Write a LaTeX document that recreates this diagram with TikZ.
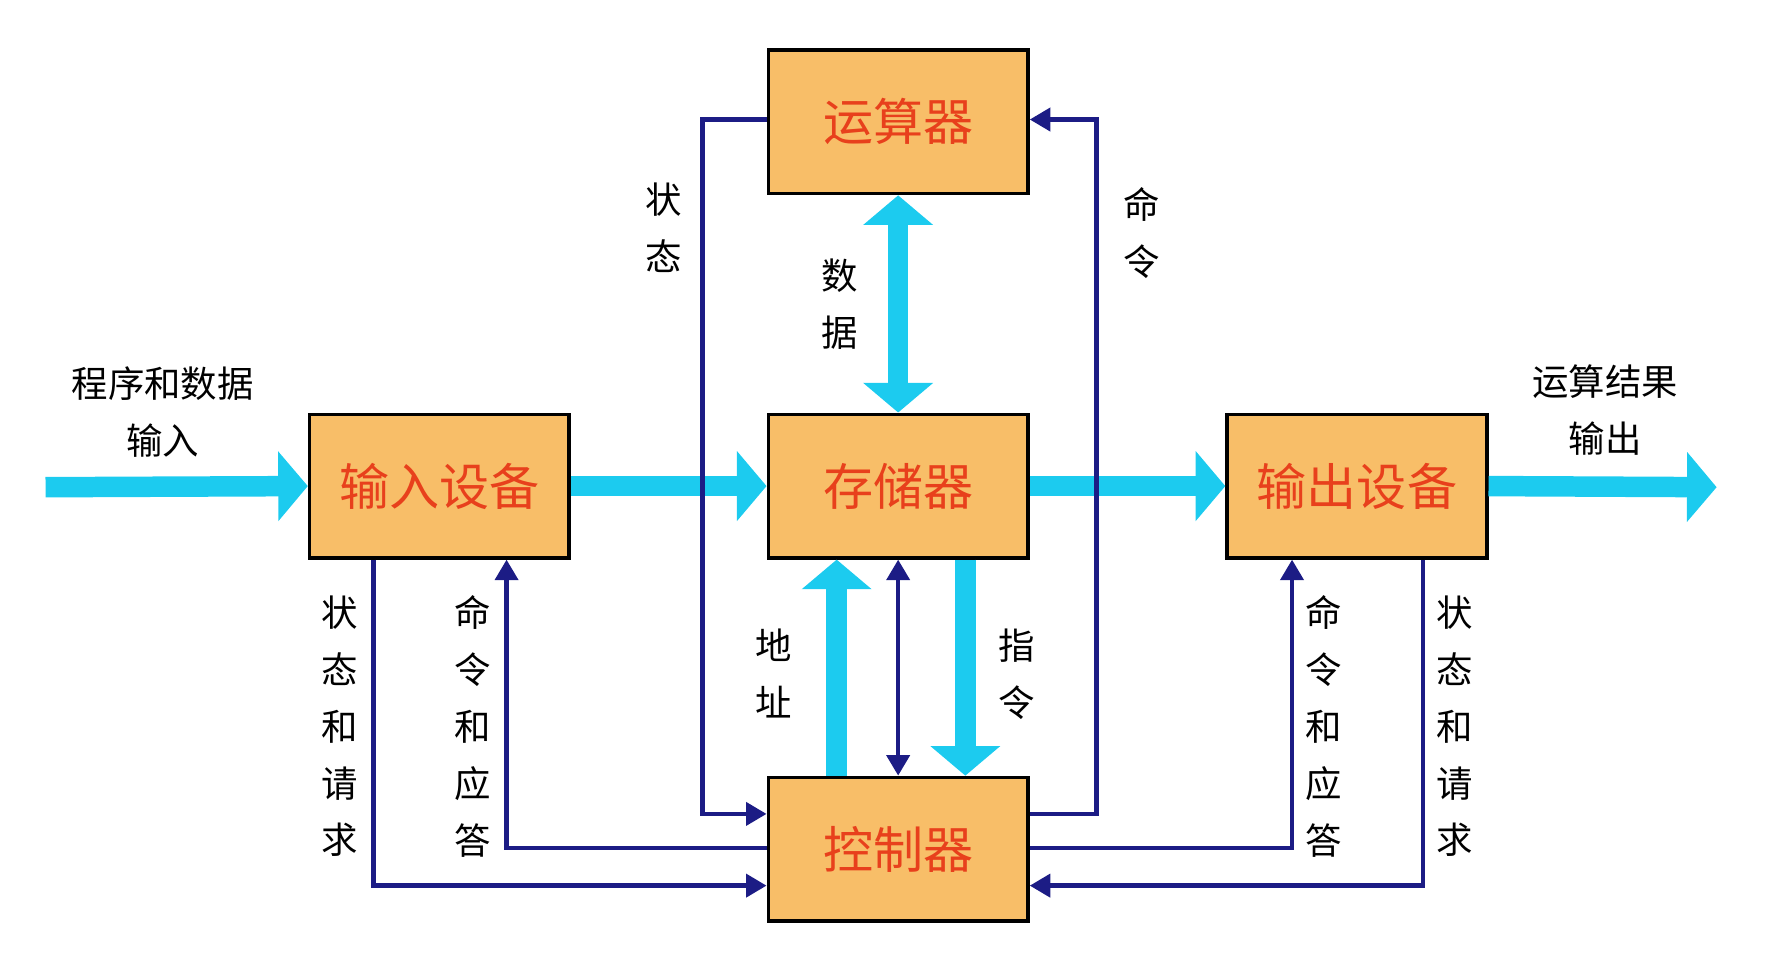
\documentclass[tikz,border=0pt]{standalone}
\usepackage{fontspec}
\newfontfamily\cjk{Noto Sans CJK SC}
\usetikzlibrary{arrows.meta}
\definecolor{boxfill}{HTML}{F8BE68}
\definecolor{boxtext}{HTML}{E8401C}
\definecolor{bus}{HTML}{1CCBEF}
\definecolor{ctl}{HTML}{1C1C85}
\begin{document}
\begin{tikzpicture}[x=0.5pt,y=-0.5pt,
  box/.style={draw=black,line width=1.6pt,fill=boxfill,minimum width=114pt,minimum height=63pt,inner sep=0pt,font=\cjk\fontsize{22}{24}\selectfont,text=boxtext},
  busarrow/.style={draw=bus,line width=9pt,-{Triangle[width=30pt,length=13pt]}},
  busdbl/.style={draw=bus,line width=9pt,{Triangle[width=30pt,length=13pt]}-{Triangle[width=30pt,length=13pt]}},
  ctlarrow/.style={draw=ctl,line width=2pt,-{Triangle[width=10pt,length=9pt]}},
  lbl/.style={font=\cjk\fontsize{16}{25}\selectfont,align=center,inner sep=0pt}]
\useasboundingbox (0,0) rectangle (1554,860);
\node[box] (alu) at (789,107) {运算器};
\node[box] (mem) at (789,427) {存储器};
\node[box] (in) at (386,427) {输入设备};
\node[box] (out) at (1192,427) {输出设备};
\node[box] (cu) at (789,746) {控制器};
\coordinate (src) at (40,428);
\coordinate (dst) at (1508,428);
% bus arrows
\draw[busarrow] (src) -- (in.west);
\draw[busarrow] (in.east) -- (mem.west);
\draw[busarrow] (mem.east) -- (out.west);
\draw[busarrow] (out.east) -- (dst);
\draw[busdbl] (alu.south) -- (mem.north);
\draw[busarrow] (cu.north -| 735,0) -- (mem.south -| 735,0);
\draw[busarrow] (mem.south -| 848,0) -- (cu.north -| 848,0);
\draw[draw=ctl,line width=2pt,{Triangle[width=10pt,length=9pt]}-{Triangle[width=10pt,length=9pt]}] (mem.south) -- (cu.north);
% control lines
\draw[ctlarrow] (alu.west |- 0,105) -- (617,105) -- (617,715) -- (cu.west |- 0,715);
\draw[ctlarrow] (cu.east |- 0,715) -- (963,715) -- (963,105) -- (alu.east |- 0,105);
\draw[ctlarrow] (in.south -| 328,0) -- (328,778) -- (cu.west |- 0,778);
\draw[ctlarrow] (cu.west |- 0,745) -- (445,745) -- (in.south -| 445,0);
\draw[ctlarrow] (cu.east |- 0,745) -- (1135,745) -- (out.south -| 1135,0);
\draw[ctlarrow] (out.south -| 1250,0) -- (1250,778) -- (cu.east |- 0,778);
% labels
\node[lbl] (l1) at (583,200) {状\\态};
\node[lbl] (l2) at (1003,205) {命\\令};
\node[lbl] (l3) at (738,267) {数\\据};
\node[lbl] (l4) at (680,592) {地\\址};
\node[lbl] (l5) at (893,592) {指\\令};
\node[lbl] (l6) at (298,638) {状\\态\\和\\请\\求};
\node[lbl] (l7) at (415,638) {命\\令\\和\\应\\答};
\node[lbl] (l8) at (1163,638) {命\\令\\和\\应\\答};
\node[lbl] (l9) at (1278,638) {状\\态\\和\\请\\求};
\node[lbl] (l10) at (143,362) {程序和数据\\输入};
\node[lbl] (l11) at (1410,360) {运算结果\\输出};
\end{tikzpicture}
\end{document}
